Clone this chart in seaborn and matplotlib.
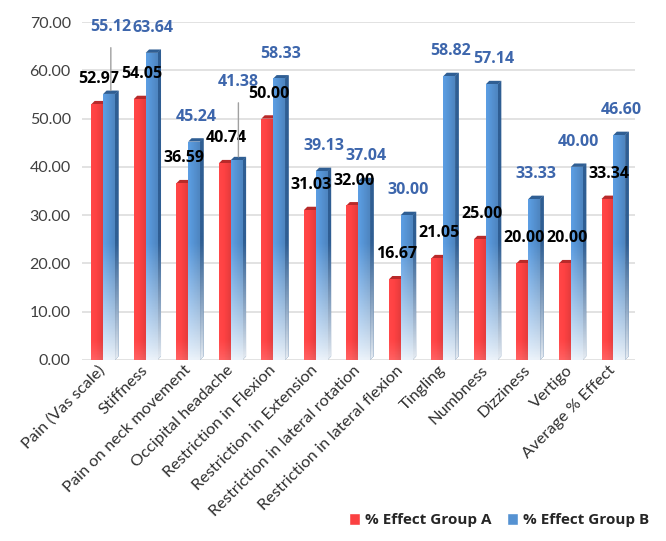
import numpy as np
import pandas as pd
import matplotlib
matplotlib.use("Agg")
import matplotlib.pyplot as plt
import seaborn as sns
from matplotlib.patches import Polygon, Patch
from matplotlib.colors import to_rgb

# ---------------- data ----------------
categories = [
    "Pain (Vas scale)", "Stiffness", "Pain on neck movement", "Occipital headache",
    "Restriction in Flexion", "Restriction in Extension", "Restriction in lateral rotation",
    "Restriction in lateral flexion", "Tingling", "Numbness", "Dizziness", "Vertigo",
    "Average % Effect",
]
group_a = [52.97, 54.05, 36.59, 40.74, 50.00, 31.03, 32.00, 16.67, 21.05, 25.00, 20.00, 20.00, 33.34]
group_b = [55.12, 63.64, 45.24, 41.38, 58.33, 39.13, 37.04, 30.00, 58.82, 57.14, 33.33, 40.00, 46.60]
series_names = ["% Effect Group A", "% Effect Group B"]
y_ticks = [0, 10, 20, 30, 40, 50, 60, 70]

# ---------------- style ----------------
RED = "#FB4142"
RED_SIDE = "#B82A2A"
BLUE = "#5592D2"
BLUE_SIDE = "#2F5E93"
BLUE_TXT = "#3D66AC"
GRID = "#DDDDDD"
BOLD_FONT = ['Open Sans', 'DejaVu Sans']

sns.set_theme(style="white")
plt.rcParams['font.family'] = ['Lato', 'DejaVu Sans']

df = pd.DataFrame({
    "Symptom": categories * 2,
    "Value": group_a + group_b,
    "Group": [series_names[0]] * len(categories) + [series_names[1]] * len(categories),
})

fig = plt.figure(figsize=(6.66, 5.41), dpi=100)
ax = fig.add_axes([0.123, 0.335, 0.830, 0.624])

sns.barplot(data=df, x="Symptom", y="Value", hue="Group", hue_order=series_names,
            palette=[RED, BLUE], width=0.56, dodge=True, legend=False, ax=ax,
            saturation=1, errorbar=None, linewidth=0, zorder=3)

DX = 0.08   # depth in x (category units)
DY = 0.7    # depth in y (value units)


def grad_image(base, n=120, fade_to=22.0, top=70.0, kmin=0.15, hshade=True):
    c = np.array(to_rgb(base))
    vals = np.linspace(0, top, n)
    t = np.clip(vals / fade_to, 0, 1)
    k = kmin + (1 - kmin) * t ** 0.9
    cols = np.ones((n, 8, 4))
    xs = np.linspace(0, 1, 8)
    for j, xv in enumerate(xs):
        shade = 1.08 - 0.16 * xv if hshade else 1.0
        cc = np.clip(c * shade, 0, 1)
        cols[:, j, :3] = (1 - k)[:, None] + k[:, None] * cc[None, :]
    cols[:, :, 3] = 1
    return cols


patch_info = []
for p in list(ax.patches):
    fc = p.get_facecolor()
    is_b = np.allclose(fc[:3], to_rgb(BLUE), atol=0.02)
    patch_info.append((p, is_b, p.get_x(), p.get_width(), p.get_height()))

for p, is_b, x0, w, h in patch_info:
    x1 = x0 + w
    side_col = BLUE_SIDE if is_b else RED_SIDE
    side = Polygon([(x1, 0), (x1 + DX, DY), (x1 + DX, h + DY), (x1, h)], closed=True,
                   facecolor=side_col, edgecolor='none', zorder=3)
    topf = Polygon([(x0, h), (x0 + DX, h + DY), (x1 + DX, h + DY), (x1, h)], closed=True,
                   facecolor=side_col, edgecolor='none', zorder=3)
    ax.add_patch(side)
    ax.add_patch(topf)
    if is_b:
        img = grad_image(BLUE, fade_to=24.0, kmin=0.12)
        img2 = grad_image(BLUE_SIDE, fade_to=24.0, kmin=0.12, hshade=False)
    else:
        img = grad_image(RED, fade_to=4.0, kmin=0.85)
        img2 = grad_image(RED_SIDE, fade_to=18.0, kmin=0.25, hshade=False)
    im = ax.imshow(img, extent=(x0, x1, 0, 70), origin='lower', aspect='auto', zorder=3.5)
    im.set_clip_path(p)
    im2 = ax.imshow(img2, extent=(x1, x1 + DX, 0, 70 + DY), origin='lower', aspect='auto', zorder=3.5)
    im2.set_clip_path(side)

# value labels
special = {(1, 0): 46, (1, 3): 54}
for p, is_b, x0, w, h in patch_info:
    cx = x0 + w / 2 + DX / 2
    idx = int(round(x0 + w / 2 + (0.14 if not is_b else -0.14)))
    key = (1 if is_b else 0, idx)
    off = special.get(key, 15.5)
    kw = {}
    if key in special:
        kw['arrowprops'] = dict(arrowstyle='-', color='#A0A0A0', lw=1.0, shrinkA=7, shrinkB=0)
    ax.annotate(f"{h:.2f}", xy=(cx, h + DY), xytext=(0, off), textcoords='offset points',
                ha='center', va='center', fontsize=11.5, fontweight='bold', family=BOLD_FONT,
                color=BLUE_TXT if is_b else 'black', zorder=6, **kw)

ax.set_xlim(-0.5, len(categories) - 0.5)
ax.set_ylim(0, 70)
ax.set_yticks(y_ticks)
ax.set_yticklabels([f"{v:.2f}" for v in y_ticks], fontsize=11.5, color='#404040')
ax.yaxis.grid(True, color=GRID, lw=1.2, zorder=0)
ax.set_axisbelow(True)
for s in ax.spines.values():
    s.set_visible(False)
ax.tick_params(axis='both', length=0)
ax.tick_params(axis='y', pad=8)
ax.tick_params(axis='x', pad=6)
ax.set_xlabel("")
ax.set_ylabel("")
ax.set_xticks(range(len(categories)))
ax.set_xticklabels(categories, rotation=45, ha='right', rotation_mode='anchor', va='center',
                   fontsize=11.8, color='#303030')

handles = [Patch(facecolor=RED, label=series_names[0]), Patch(facecolor=BLUE, label=series_names[1])]
fig.legend(handles=handles, loc='lower right', bbox_to_anchor=(0.995, 0.0), ncol=2,
           frameon=False, handlelength=0.75, handleheight=0.75, handletextpad=0.3,
           columnspacing=1.0, prop={'weight': 'bold', 'size': 11, 'family': BOLD_FONT})

fig.savefig("out.png", dpi=100)
